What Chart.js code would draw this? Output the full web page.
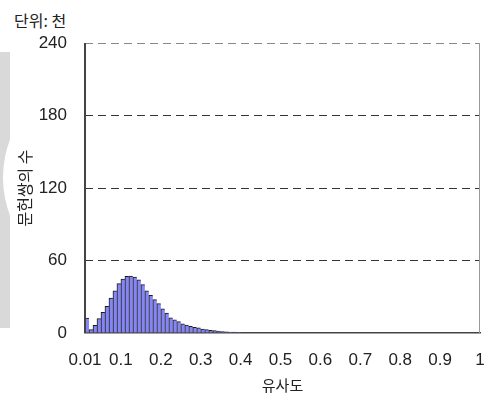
<!DOCTYPE html>
<html>
<head>
<meta charset="utf-8">
<script src="https://cdn.jsdelivr.net/npm/chart.js@4"></script>
<style>
  body { margin: 0; background: #fff; }
  #wrap { position: relative; width: 484px; height: 399px; }
  #band { position: absolute; left: 0; top: 52px; width: 10px; height: 276px; background: #d9d9d9; overflow: hidden; }
  #band div { position: absolute; left: 3px; top: 19px; width: 213px; height: 213px; border-radius: 50%; background: #fff; }
  #unit { position: absolute; left: 14px; top: 10px; font: 16px "Noto Sans CJK KR", sans-serif; color: #222; line-height: 20px; }
  canvas { position: absolute; left: 0; top: 0; }
</style>
</head>
<body>
<div id="wrap">
  <div id="band"><div></div></div>
  <div id="unit">단위: 천</div>
  <canvas id="chart" width="484" height="399"></canvas>
</div>
<script>
// Data (counts in thousands, bins of 0.01)
const binStarts = [0.01, 0.02, 0.03, 0.04, 0.05, 0.06, 0.07, 0.08, 0.09, 0.10,
  0.11, 0.12, 0.13, 0.14, 0.15, 0.16, 0.17, 0.18, 0.19, 0.20,
  0.21, 0.22, 0.23, 0.24, 0.25, 0.26, 0.27, 0.28, 0.29, 0.30,
  0.31, 0.32, 0.33, 0.34, 0.35, 0.36, 0.37, 0.38, 0.39];
const counts = [12.4, 2.8, 6.3, 11.9, 17.1, 22.0, 29.0, 35.0, 40.8, 44.7,
  46.9, 47.2, 46.3, 44.1, 40.0, 35.0, 31.2, 27.6, 24.3, 19.9,
  16.5, 12.5, 10.8, 9.4, 7.6, 6.6, 5.5, 4.7, 4.2, 3.3,
  2.8, 2.2, 1.9, 1.6, 1.2, 1.0, 0.8, 0.7, 0.6];
const binWidth = 0.01;
const xTicks = [0.01, 0.1, 0.2, 0.3, 0.4, 0.5, 0.6, 0.7, 0.8, 0.9, 1];
const yTicks = [0, 60, 120, 180, 240];

const points = binStarts.map((s, i) => ({ x: s + binWidth / 2, y: counts[i] }));

// left and right frame lines
const framePlugin = {
  id: 'frame',
  afterDatasetsDraw(chart) {
    const { ctx, chartArea: a } = chart;
    ctx.save();
    ctx.strokeStyle = '#444';
    ctx.lineWidth = 2;
    ctx.beginPath();
    ctx.moveTo(a.left, a.top);
    ctx.lineTo(a.left, a.bottom);
    ctx.stroke();
    ctx.strokeStyle = '#999';
    ctx.lineWidth = 1;
    ctx.beginPath();
    ctx.moveTo(a.right - 0.5, a.top);
    ctx.lineTo(a.right - 0.5, a.bottom);
    ctx.stroke();
    ctx.restore();
  }
};

const tickFont = { family: '"Liberation Sans", Arial, sans-serif', size: 17 };
const korFont = { family: '"Noto Sans CJK KR", sans-serif', size: 15 };

new Chart(document.getElementById('chart'), {
  type: 'bar',
  data: {
    datasets: [{
      data: points,
      backgroundColor: '#8686f2',
      borderColor: '#1a1a1a',
      borderWidth: { left: 1, top: 1, right: 0, bottom: 0 },
      borderSkipped: false,
      barPercentage: 1,
      categoryPercentage: 1
    }]
  },
  options: {
    responsive: false,
    animation: false,
    layout: { padding: { top: 43, right: 4, left: 0, bottom: 0 } },
    plugins: { legend: { display: false }, tooltip: { enabled: false } },
    scales: {
      x: {
        type: 'linear',
        offset: false,
        min: 0.01,
        max: 1,
        afterBuildTicks: (s) => { s.ticks = xTicks.map(v => ({ value: v })); },
        afterFit: (s) => { s.height = 66; s.paddingLeft = 0; s.paddingRight = 0; },
        ticks: {
          font: tickFont,
          color: '#222',
          padding: 17,
          maxRotation: 0,
          autoSkip: false,
          callback: (v) => String(v)
        },
        grid: { display: false, drawTicks: false },
        border: { display: true, color: '#444', width: 1.5 },
        title: { display: true, text: '유사도', font: korFont, color: '#222', padding: { top: 0, bottom: 5 } }
      },
      y: {
        min: 0,
        max: 240,
        afterBuildTicks: (s) => { s.ticks = yTicks.map(v => ({ value: v })); },
        afterFit: (s) => { s.width = 85; },
        ticks: { font: tickFont, color: '#222', padding: 18 },
        grid: {
          drawTicks: false,
          lineWidth: 1,
          color: (c) => c.tick && c.tick.value === 0 ? 'rgba(0,0,0,0)' : (c.tick && c.tick.value === 240 ? '#888' : '#333')
        },
        border: { display: false, dash: [8, 5] },
        title: { display: true, text: '문헌쌍의 수', font: { family: '"Noto Sans CJK KR", sans-serif', size: 16 }, color: '#222', padding: { top: 15, bottom: 0 } }
      }
    }
  },
  plugins: [framePlugin]
});
</script>
</body>
</html>
